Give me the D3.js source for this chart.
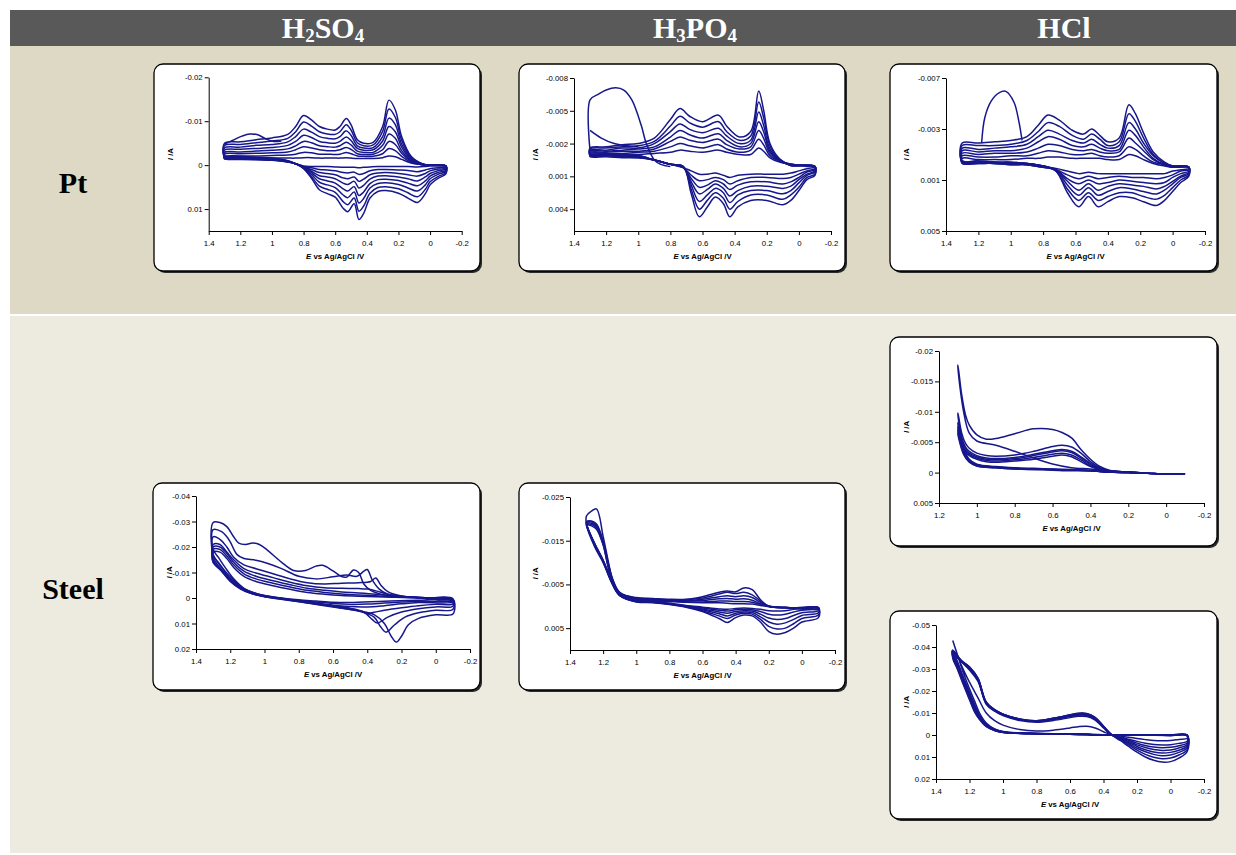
<!DOCTYPE html>
<html>
<head>
<meta charset="utf-8">
<script src="https://cdn.jsdelivr.net/npm/d3@7"></script>
<style>
  body { margin: 0; background: #fff; }
  svg { display: block; }
</style>
</head>
<body>
<svg id="fig" width="1236" height="855"></svg>
<script>
// Currents are in mA (negative plotted upward), potentials in V vs Ag/AgCl.

// ---- Pt in H2SO4 ----
var ptH2so4UpE = [1.3, 1.2, 1.1, 1.0, 0.9, 0.85, 0.8, 0.75, 0.7, 0.65, 0.6, 0.57, 0.53, 0.5, 0.46, 0.42, 0.36, 0.3, 0.26, 0.22, 0.18, 0.12, 0.05, 0, -0.1];
var ptH2so4Up = [
    [-5, -5.3, -5.8, -6.2, -7, -8.8, -11.3, -10.3, -8.8, -8.2, -8.0, -8.8, -10.6, -9.2, -5.8, -5.0, -5.2, -8.8, -14.8, -12.6, -6.5, -2.0, -0.3, 0, 0.2],
    [-4.5, -4.7, -5.1, -5.5, -6.1, -7.6, -9.8, -8.9, -7.6, -7.1, -7.0, -7.6, -9.2, -8.0, -5.1, -4.4, -4.6, -7.7, -12.8, -10.9, -5.7, -1.8, -0.3, 0, 0.2],
    [-3.9, -4.1, -4.5, -4.7, -5.3, -6.5, -8.2, -7.5, -6.5, -6.1, -6.0, -6.5, -7.8, -6.8, -4.4, -3.9, -4.0, -6.5, -10.7, -9.2, -4.8, -1.5, -0.2, 0, 0.2],
    [-3.4, -3.6, -3.8, -4.0, -4.5, -5.4, -6.8, -6.3, -5.4, -5.1, -5.0, -5.4, -6.4, -5.6, -3.8, -3.4, -3.5, -5.5, -8.8, -7.6, -4.1, -1.3, -0.2, 0, 0.2],
    [-2.9, -3.0, -3.2, -3.4, -3.7, -4.4, -5.4, -5.1, -4.4, -4.2, -4.1, -4.4, -5.2, -4.6, -3.2, -2.9, -2.9, -4.5, -7.1, -6.1, -3.3, -1.1, -0.2, 0, 0.2],
    [-2.5, -2.6, -2.7, -2.8, -3.0, -3.5, -4.2, -3.9, -3.5, -3.3, -3.3, -3.5, -4.0, -3.6, -2.6, -2.4, -2.5, -3.5, -5.4, -4.7, -2.7, -0.9, -0.1, 0, 0.2],
    [-2.0, -2.1, -2.1, -2.2, -2.3, -2.5, -2.9, -2.8, -2.5, -2.5, -2.4, -2.5, -2.9, -2.6, -2.1, -2.0, -2.0, -2.6, -3.8, -3.3, -2.0, -0.7, -0.1, 0, 0.2],
    [-1.6, -1.6, -1.6, -1.6, -1.6, -1.6, -1.7, -1.7, -1.6, -1.6, -1.6, -1.6, -1.7, -1.6, -1.5, -1.5, -1.5, -1.7, -2.1, -1.9, -1.3, -0.5, -0.1, 0, 0.2]
];
var ptH2so4DownE = [-0.1, -0.05, 0, 0.03, 0.08, 0.14, 0.2, 0.28, 0.33, 0.38, 0.42, 0.45, 0.48, 0.52, 0.55, 0.6, 0.65, 0.7, 0.75, 0.8, 0.85, 0.9, 1.0, 1.1, 1.2, 1.3];
var ptH2so4Down = [
    [2.0, 3.0, 4.5, 6.5, 8.5, 7.5, 6.4, 5.8, 6.0, 7.5, 11.0, 12.4, 8.8, 10.6, 9.8, 7.3, 6.5, 5.6, 3.0, 0.8, -0.3, -1.0, -1.6, -1.8, -2.0, -2.2],
    [1.7, 2.6, 3.8, 5.5, 7.2, 6.3, 5.4, 4.9, 5.1, 6.4, 9.3, 10.5, 7.5, 9.0, 8.3, 6.2, 5.5, 4.8, 2.6, 0.7, -0.3, -1.0, -1.5, -1.7, -1.9, -2.1],
    [1.4, 2.1, 3.1, 4.5, 5.9, 5.2, 4.4, 4.0, 4.2, 5.2, 7.6, 8.6, 6.1, 7.4, 6.8, 5.1, 4.5, 3.9, 2.1, 0.6, -0.3, -0.9, -1.4, -1.6, -1.8, -1.9],
    [1.2, 1.7, 2.5, 3.6, 4.7, 4.1, 3.5, 3.2, 3.3, 4.2, 6.1, 6.9, 4.9, 5.9, 5.4, 4.1, 3.6, 3.1, 1.7, 0.5, -0.3, -0.9, -1.4, -1.5, -1.7, -1.8],
    [0.9, 1.3, 1.9, 2.7, 3.6, 3.1, 2.7, 2.4, 2.5, 3.2, 4.6, 5.2, 3.7, 4.4, 4.1, 3.1, 2.7, 2.4, 1.4, 0.4, -0.3, -0.8, -1.3, -1.4, -1.6, -1.7],
    [0.7, 0.9, 1.3, 1.9, 2.5, 2.2, 1.9, 1.7, 1.8, 2.2, 3.2, 3.7, 2.7, 3.1, 2.9, 2.2, 1.9, 1.7, 1.0, 0.4, -0.3, -0.8, -1.2, -1.4, -1.5, -1.6],
    [0.4, 0.6, 0.8, 1.1, 1.5, 1.2, 1.1, 1.0, 1.0, 1.3, 1.9, 2.1, 1.6, 1.8, 1.7, 1.3, 1.1, 1.0, 0.6, 0.3, -0.3, -0.7, -1.2, -1.3, -1.4, -1.5],
    [0.2, 0.2, 0.2, 0.3, 0.4, 0.3, 0.3, 0.3, 0.3, 0.4, 0.5, 0.6, 0.5, 0.5, 0.5, 0.4, 0.3, 0.3, 0.3, 0.2, -0.3, -0.7, -1.1, -1.2, -1.3, -1.4]
];
var ptH2so4First = [[1.3, -4.8], [1.25, -5.6], [1.19, -6.6], [1.14, -7.1], [1.09, -6.9], [1.04, -6.0], [0.99, -5.4], [0.94, -5.5]];

// ---- Pt in H3PO4 ----
var ptH3po4UpE = [1.3, 1.2, 1.1, 1.0, 0.9, 0.8, 0.74, 0.68, 0.6, 0.5, 0.45, 0.37, 0.3, 0.25, 0.22, 0.18, 0.12, 0.05, -0.1];
var ptH3po4Up = [
    [-1.6, -1.7, -1.9, -2.0, -2.5, -4.2, -5.2, -4.5, -4.0, -4.6, -3.6, -2.6, -3.1, -6.8, -5.1, -2.0, -0.6, 0, 0.1],
    [-1.5, -1.6, -1.7, -1.8, -2.2, -3.6, -4.5, -3.9, -3.5, -4.0, -3.1, -2.3, -2.7, -5.8, -4.4, -1.8, -0.5, 0, 0.1],
    [-1.4, -1.4, -1.6, -1.6, -2.0, -3.1, -3.8, -3.3, -3.0, -3.4, -2.7, -2.0, -2.3, -4.9, -3.7, -1.5, -0.5, 0, 0.1],
    [-1.3, -1.3, -1.4, -1.5, -1.7, -2.6, -3.2, -2.8, -2.5, -2.9, -2.3, -1.7, -2.0, -4.0, -3.1, -1.3, -0.5, -0.1, 0.1],
    [-1.2, -1.2, -1.3, -1.3, -1.5, -2.2, -2.6, -2.3, -2.1, -2.4, -1.9, -1.5, -1.7, -3.2, -2.5, -1.1, -0.4, -0.1, 0.1],
    [-1.1, -1.1, -1.1, -1.2, -1.3, -1.7, -2.0, -1.8, -1.6, -1.9, -1.5, -1.2, -1.4, -2.4, -1.9, -0.9, -0.4, -0.1, 0.1],
    [-1.0, -1.0, -1.0, -1.0, -1.1, -1.2, -1.4, -1.3, -1.2, -1.4, -1.2, -1.0, -1.0, -1.6, -1.3, -0.7, -0.3, -0.1, 0.2]
];
var ptH3po4DownE = [-0.1, -0.05, 0, 0.05, 0.1, 0.2, 0.3, 0.38, 0.43, 0.47, 0.52, 0.57, 0.62, 0.67, 0.72, 0.8, 0.9, 1.0, 1.1, 1.2, 1.3];
var ptH3po4Down = [
    [0.9, 1.3, 2.3, 3.2, 3.6, 3.2, 3.2, 3.8, 4.7, 3.5, 2.9, 3.8, 4.7, 2.6, 0.1, -0.1, -0.5, -0.9, -1.0, -1.1, -1.1],
    [0.8, 1.1, 2.0, 2.7, 3.1, 2.7, 2.7, 3.3, 4.0, 3.0, 2.5, 3.2, 4.0, 2.2, 0.1, -0.1, -0.5, -0.9, -0.9, -1.0, -1.0],
    [0.6, 0.9, 1.6, 2.3, 2.6, 2.3, 2.3, 2.7, 3.4, 2.5, 2.1, 2.7, 3.3, 1.8, 0.1, -0.1, -0.5, -0.8, -0.9, -1.0, -1.0],
    [0.5, 0.8, 1.3, 1.9, 2.1, 1.9, 1.9, 2.3, 2.8, 2.1, 1.7, 2.2, 2.6, 1.5, 0.1, -0.1, -0.5, -0.8, -0.9, -0.9, -0.9],
    [0.4, 0.6, 1.1, 1.5, 1.7, 1.5, 1.5, 1.8, 2.2, 1.7, 1.4, 1.8, 2.0, 1.2, 0.2, -0.1, -0.5, -0.8, -0.8, -0.9, -0.9],
    [0.3, 0.5, 0.8, 1.1, 1.2, 1.1, 1.1, 1.4, 1.7, 1.3, 1.1, 1.3, 1.4, 0.9, 0.2, -0.1, -0.5, -0.7, -0.8, -0.9, -0.9],
    [0.2, 0.3, 0.5, 0.7, 0.8, 0.8, 0.8, 0.9, 1.1, 0.9, 0.7, 0.8, 0.8, 0.5, 0.2, -0.1, -0.5, -0.7, -0.7, -0.8, -0.8]
];
var ptH3po4FirstA = [[1.3, -1.3], [1.3, -6.0], [1.25, -6.5], [1.2, -6.9], [1.14, -7.1], [1.09, -6.9], [1.04, -6.0], [0.98, -3.6], [0.95, -2.0], [0.9, -0.5], [0.86, -0.1], [0.8, 0.1]];
var ptH3po4FirstB = [[1.3, -3.2], [1.23, -2.5], [1.15, -2.0], [1.07, -1.8], [1.0, -1.7]];

// ---- Pt in HCl ----
var ptHclUpE = [1.3, 1.2, 1.1, 1.0, 0.9, 0.83, 0.77, 0.7, 0.62, 0.55, 0.5, 0.45, 0.4, 0.33, 0.27, 0.23, 0.18, 0.12, 0.05, 0, -0.1];
var ptHclUp = [
    [-1.9, -1.9, -2.0, -2.1, -2.4, -3.3, -4.1, -3.7, -2.9, -2.6, -3.0, -2.5, -2.0, -2.3, -4.9, -4.2, -2.7, -1.2, -0.4, -0.1, 0],
    [-1.7, -1.7, -1.7, -1.8, -2.1, -2.8, -3.5, -3.2, -2.5, -2.2, -2.6, -2.2, -1.7, -2.0, -4.2, -3.6, -2.3, -1.0, -0.3, -0.1, 0],
    [-1.5, -1.4, -1.5, -1.6, -1.8, -2.4, -2.9, -2.6, -2.1, -1.9, -2.2, -1.8, -1.5, -1.7, -3.5, -3.0, -1.9, -0.9, -0.3, -0.1, 0],
    [-1.3, -1.2, -1.3, -1.3, -1.5, -2.0, -2.4, -2.2, -1.7, -1.6, -1.8, -1.5, -1.3, -1.4, -2.9, -2.5, -1.6, -0.7, -0.2, -0.1, 0],
    [-1.1, -1.0, -1.1, -1.1, -1.2, -1.5, -1.8, -1.7, -1.4, -1.3, -1.4, -1.2, -1.1, -1.2, -2.3, -1.9, -1.3, -0.6, -0.2, 0, 0],
    [-0.9, -0.8, -0.8, -0.9, -0.9, -1.1, -1.3, -1.2, -1.0, -1.0, -1.1, -0.9, -0.8, -0.9, -1.6, -1.4, -0.9, -0.4, -0.2, 0, 0],
    [-0.7, -0.6, -0.6, -0.6, -0.7, -0.7, -0.8, -0.8, -0.7, -0.7, -0.7, -0.7, -0.6, -0.6, -1.0, -0.9, -0.6, -0.3, -0.1, 0, 0]
];
var ptHclDownE = [-0.1, -0.05, 0, 0.05, 0.1, 0.18, 0.25, 0.33, 0.4, 0.46, 0.52, 0.58, 0.65, 0.72, 0.8, 0.9, 1.0, 1.1, 1.2, 1.3];
var ptHclDown = [
    [0.7, 1.2, 1.9, 2.6, 3.0, 2.7, 2.4, 2.3, 2.7, 3.1, 2.3, 3.1, 2.0, 0.3, -0.1, -0.3, -0.4, -0.4, -0.5, -0.5],
    [0.6, 1.0, 1.6, 2.2, 2.5, 2.3, 2.0, 2.0, 2.3, 2.6, 2.0, 2.6, 1.7, 0.3, -0.1, -0.3, -0.4, -0.4, -0.5, -0.5],
    [0.5, 0.8, 1.3, 1.8, 2.1, 1.9, 1.7, 1.6, 1.9, 2.2, 1.6, 2.2, 1.4, 0.2, -0.1, -0.3, -0.3, -0.4, -0.4, -0.4],
    [0.4, 0.7, 1.1, 1.5, 1.7, 1.5, 1.4, 1.3, 1.5, 1.8, 1.3, 1.8, 1.1, 0.2, -0.1, -0.3, -0.3, -0.4, -0.4, -0.4],
    [0.3, 0.5, 0.8, 1.2, 1.3, 1.2, 1.1, 1.0, 1.2, 1.3, 1.0, 1.3, 0.9, 0.2, 0, -0.2, -0.3, -0.3, -0.4, -0.4],
    [0.2, 0.3, 0.6, 0.8, 0.9, 0.8, 0.8, 0.7, 0.8, 0.9, 0.7, 0.9, 0.6, 0.2, 0, -0.2, -0.2, -0.3, -0.3, -0.3],
    [0.1, 0.2, 0.3, 0.5, 0.5, 0.5, 0.5, 0.5, 0.5, 0.5, 0.4, 0.5, 0.3, 0.1, 0, -0.2, -0.2, -0.3, -0.3, -0.3]
];
var ptHclFirst = [[1.18, -1.9], [1.16, -3.9], [1.12, -5.2], [1.07, -5.85], [1.03, -5.95], [0.98, -5.1], [0.95, -3.6], [0.93, -2.1]];

// ---- Steel in H2SO4 (peaks move from cycle to cycle, so each loop has its own points) ----
var stH2so4Up = [
    [[1.3, -29.6], [1.26, -29.6], [1.22, -28], [1.18, -24], [1.15, -21.5], [1.11, -21], [1.07, -21.6], [1.03, -21], [0.98, -18.6], [0.9, -14], [0.83, -10.8], [0.76, -10.8], [0.7, -12.5], [0.66, -12.8], [0.6, -10.6], [0.55, -8.4], [0.52, -8.2], [0.48, -11], [0.45, -10], [0.42, -5.5], [0.38, -3], [0.3, -1.2], [0.2, -0.4], [0.05, 0], [-0.1, 0.3]],
    [[1.3, -26.8], [1.25, -26], [1.22, -24], [1.2, -22], [1.16, -17], [1.12, -15.5], [1.05, -14.8], [0.98, -13.5], [0.9, -11.5], [0.8, -8.5], [0.7, -7.5], [0.6, -8.3], [0.52, -9], [0.46, -8.5], [0.42, -10.5], [0.4, -11.2], [0.37, -7], [0.33, -3.5], [0.28, -1.5], [0.2, -0.6], [0.05, 0], [-0.1, 0.5]],
    [[1.3, -24], [1.26, -23], [1.22, -20], [1.18, -16], [1.12, -13], [1.05, -11.5], [0.95, -9.5], [0.85, -7.5], [0.75, -6], [0.65, -5.5], [0.55, -5.8], [0.45, -6], [0.38, -6.5], [0.35, -7.8], [0.32, -5], [0.28, -2.5], [0.2, -0.8], [0.05, 0], [-0.1, 0.6]],
    [[1.3, -21], [1.26, -21], [1.22, -18], [1.18, -15], [1.12, -11.5], [1.05, -9.8], [0.95, -8], [0.85, -6.2], [0.75, -4.8], [0.65, -4], [0.55, -3.8], [0.45, -3.7], [0.4, -3.5], [0.35, -2.8], [0.28, -1.5], [0.2, -0.7], [0.05, 0], [-0.1, 0.8]],
    [[1.3, -20], [1.26, -20], [1.22, -17.5], [1.18, -14], [1.12, -10.5], [1.05, -8.5], [0.95, -6.8], [0.85, -5.2], [0.75, -3.8], [0.65, -3], [0.55, -2.4], [0.45, -2], [0.35, -1.5], [0.25, -0.8], [0.1, -0.2], [-0.1, 0.9]],
    [[1.3, -19], [1.26, -19], [1.22, -16.5], [1.18, -13], [1.12, -9.5], [1.05, -7.5], [0.95, -5.8], [0.85, -4.3], [0.75, -3], [0.65, -2.2], [0.55, -1.6], [0.45, -1.2], [0.35, -0.9], [0.25, -0.5], [0.1, -0.1], [-0.1, 1.0]],
    [[1.3, -18], [1.26, -18], [1.22, -15.5], [1.18, -12], [1.12, -8.5], [1.05, -6.5], [0.95, -4.8], [0.85, -3.4], [0.75, -2.2], [0.65, -1.5], [0.55, -1], [0.45, -0.7], [0.3, -0.4], [0.1, 0], [-0.1, 1.2]]
];
var stH2so4Down = [
    [[-0.1, 6.3], [0, 6.6], [0.1, 8], [0.16, 10.5], [0.2, 15], [0.23, 17.3], [0.26, 15], [0.3, 10], [0.36, 6.5], [0.45, 5], [0.55, 4], [0.65, 3], [0.75, 2], [0.85, 1], [0.95, 0], [1.05, -1.5], [1.12, -3.5], [1.18, -7], [1.23, -10.5], [1.27, -14], [1.3, -17]],
    [[-0.1, 4.5], [0, 4.8], [0.1, 5.8], [0.18, 7.5], [0.24, 10.5], [0.29, 13.4], [0.32, 11.5], [0.36, 7.5], [0.45, 5], [0.55, 3.6], [0.65, 2.6], [0.75, 1.6], [0.85, 0.6], [0.95, -0.4], [1.05, -1.8], [1.12, -3.8], [1.18, -7.5], [1.23, -12], [1.27, -16], [1.3, -19]],
    [[-0.1, 3.2], [0, 3.5], [0.1, 4.2], [0.2, 5.5], [0.28, 7.5], [0.34, 9.8], [0.37, 8.5], [0.42, 5.5], [0.5, 4], [0.6, 3], [0.7, 2.2], [0.8, 1.2], [0.9, 0.2], [1.0, -0.8], [1.08, -2], [1.14, -4], [1.2, -7.5], [1.25, -12], [1.3, -17]],
    [[-0.1, 2.3], [0, 2.5], [0.1, 3], [0.2, 3.8], [0.3, 4.8], [0.36, 5.6], [0.4, 6], [0.44, 5.3], [0.5, 4.5], [0.6, 3.3], [0.7, 2.4], [0.8, 1.4], [0.9, 0.4], [1.0, -0.5], [1.08, -1.8], [1.14, -3.8], [1.2, -7], [1.25, -11], [1.3, -16]],
    [[-0.1, 1.6], [0.1, 1.8], [0.2, 2.3], [0.3, 3], [0.4, 3.5], [0.5, 3.3], [0.6, 2.8], [0.7, 2], [0.8, 1.2], [0.9, 0.3], [1.0, -0.6], [1.08, -1.8], [1.14, -3.5], [1.2, -6.5], [1.25, -10.5], [1.3, -15]],
    [[-0.1, 1.2], [0.1, 1.3], [0.2, 1.6], [0.3, 2], [0.4, 2.4], [0.5, 2.5], [0.6, 2.2], [0.7, 1.6], [0.8, 1], [0.9, 0.2], [1.0, -0.7], [1.08, -2], [1.14, -3.8], [1.2, -6.8], [1.25, -10.5], [1.3, -14]],
    [[-0.1, 0.8], [0.1, 0.9], [0.3, 1.3], [0.5, 1.8], [0.6, 1.7], [0.7, 1.2], [0.8, 0.7], [0.9, 0], [1.0, -1], [1.08, -2.5], [1.14, -4.5], [1.2, -7.5], [1.25, -11], [1.3, -14]]
];

// ---- Steel in H3PO4 ----
var stH3po4UpE = [1.3, 1.27, 1.24, 1.2, 1.17, 1.14, 1.1, 1.0, 0.9, 0.8, 0.7, 0.6, 0.5, 0.45, 0.4, 0.35, 0.3, 0.25, 0.2, 0.1, 0, -0.1];
var stH3po4Up = [
    [-20.7, -21.8, -22.3, -16, -10.5, -5.5, -3, -2.0, -1.8, -1.6, -1.6, -2.2, -3.2, -3.5, -3.3, -4.2, -3.8, -1.5, 0, 0.3, 0.3, 0.3],
    [-19.4, -19.5, -18.8, -15, -10, -6, -3.2, -1.9, -1.7, -1.5, -1.5, -1.9, -2.8, -3.2, -2.9, -3.2, -2.6, -1.2, 0, 0.3, 0.3, 0.3],
    [-19.2, -19.3, -18.5, -14.8, -9.8, -5.8, -3.1, -1.8, -1.6, -1.4, -1.3, -1.6, -2.2, -2.4, -2.2, -2.4, -2.0, -0.9, 0, 0.3, 0.4, 0.4],
    [-19.0, -19.0, -18.2, -14.5, -9.5, -5.6, -3.0, -1.7, -1.5, -1.3, -1.2, -1.3, -1.7, -1.8, -1.6, -1.7, -1.4, -0.6, 0, 0.3, 0.4, 0.5],
    [-18.8, -18.7, -17.9, -14.2, -9.2, -5.4, -2.9, -1.6, -1.4, -1.2, -1.0, -1.0, -1.2, -1.2, -1.1, -1.1, -0.9, -0.4, 0, 0.3, 0.5, 0.6],
    [-18.6, -18.4, -17.6, -14.0, -9.0, -5.2, -2.8, -1.5, -1.3, -1.1, -0.9, -0.8, -0.8, -0.7, -0.6, -0.6, -0.5, -0.2, 0.1, 0.4, 0.6, 0.7]
];
var stH3po4DownE = [-0.1, 0, 0.05, 0.1, 0.15, 0.2, 0.25, 0.3, 0.35, 0.4, 0.45, 0.5, 0.6, 0.7, 0.8, 0.9, 1.0, 1.1, 1.15, 1.2, 1.25, 1.3];
var stH3po4Down = [
    [2.6, 3.6, 5.0, 6.0, 6.4, 5.8, 3.6, 2.2, 2.0, 2.6, 3.7, 2.8, 1.2, 0.2, -0.4, -0.8, -1.0, -2.4, -5.5, -10, -13.5, -18.5],
    [2.0, 2.8, 4.0, 5.0, 5.2, 4.6, 3.0, 1.8, 1.6, 2.0, 2.8, 2.2, 1.0, 0.1, -0.5, -0.9, -1.1, -2.5, -5.6, -10.2, -13.8, -18.8],
    [1.5, 2.1, 3.0, 3.8, 4.1, 3.6, 2.4, 1.4, 1.3, 1.6, 2.2, 1.7, 0.8, 0, -0.5, -0.9, -1.1, -2.5, -5.7, -10.3, -14, -18.9],
    [1.0, 1.5, 2.1, 2.8, 3.0, 2.7, 1.8, 1.1, 1.0, 1.2, 1.6, 1.3, 0.6, 0, -0.6, -1.0, -1.2, -2.6, -5.8, -10.4, -14.1, -18.8],
    [0.6, 0.9, 1.3, 1.8, 2.0, 1.8, 1.2, 0.8, 0.7, 0.8, 1.1, 0.9, 0.4, -0.1, -0.6, -1.0, -1.2, -2.6, -5.9, -10.5, -14.2, -18.6],
    [0.3, 0.5, 0.7, 1.0, 1.1, 1.0, 0.7, 0.5, 0.4, 0.5, 0.7, 0.6, 0.2, -0.2, -0.7, -1.1, -1.3, -2.7, -6.0, -10.6, -14.3, -18.4]
];

// ---- Steel in HCl, upper panel (scan to 1.1 V) ----
var stHclAUpE = [1.1, 1.08, 1.06, 1.04, 1.0, 0.95, 0.9, 0.8, 0.7, 0.6, 0.55, 0.5, 0.45, 0.4, 0.35, 0.3, 0.2, 0.1, 0, -0.1];
var stHclAUp = [
    [-17.7, -12.8, -9.5, -7.8, -6.2, -5.5, -5.6, -6.4, -7.2, -7.1, -6.6, -5.7, -3.8, -2.2, -1.0, -0.4, -0.1, 0.1, 0.2, 0.2],
    [-9.8, -6.5, -4.8, -4.0, -3.2, -2.8, -2.7, -2.9, -3.5, -4.3, -4.5, -4.2, -3.2, -1.8, -0.8, -0.3, -0.1, 0.1, 0.2, 0.2],
    [-8.2, -5.8, -4.2, -3.5, -2.8, -2.4, -2.3, -2.5, -3.0, -3.6, -3.8, -3.5, -2.6, -1.5, -0.7, -0.3, -0.1, 0.1, 0.2, 0.2],
    [-7.5, -5.2, -3.9, -3.2, -2.6, -2.2, -2.1, -2.3, -2.8, -3.4, -3.6, -3.3, -2.4, -1.3, -0.6, -0.3, -0.1, 0.1, 0.2, 0.2],
    [-7.0, -4.8, -3.6, -3.0, -2.4, -2.0, -1.9, -2.1, -2.5, -3.0, -3.2, -2.9, -2.1, -1.1, -0.5, -0.2, -0.1, 0.1, 0.2, 0.2],
    [-6.5, -4.5, -3.4, -2.8, -2.2, -1.8, -1.7, -1.9, -2.2, -2.7, -2.9, -2.6, -1.8, -1.0, -0.5, -0.2, -0.1, 0.1, 0.2, 0.2]
];
var stHclADownE = [-0.1, 0, 0.1, 0.2, 0.3, 0.4, 0.5, 0.6, 0.7, 0.8, 0.9, 1.0, 1.04, 1.07, 1.1];
var stHclADown = [
    [0.2, 0.2, 0.1, 0, -0.3, -0.6, -0.8, -1.4, -2.4, -3.5, -4.5, -5.2, -6.5, -10, -17.2],
    [0.2, 0.2, 0.1, 0, -0.1, -0.4, -0.5, -0.6, -0.7, -0.8, -1.0, -1.4, -2.2, -4.0, -9.5],
    [0.2, 0.2, 0.1, 0, -0.1, -0.3, -0.4, -0.5, -0.6, -0.7, -0.9, -1.3, -2.0, -3.6, -8.0],
    [0.2, 0.2, 0.1, 0, -0.1, -0.3, -0.4, -0.5, -0.6, -0.7, -0.9, -1.2, -1.9, -3.4, -7.3],
    [0.2, 0.2, 0.1, 0, -0.1, -0.3, -0.4, -0.5, -0.5, -0.6, -0.8, -1.1, -1.8, -3.2, -6.8],
    [0.2, 0.2, 0.1, 0, -0.1, -0.3, -0.3, -0.4, -0.5, -0.6, -0.8, -1.1, -1.7, -3.0, -6.3]
];

// ---- Steel in HCl, lower panel (scan to 1.3 V) ----
var stHclBUpE = [1.3, 1.27, 1.24, 1.2, 1.17, 1.14, 1.1, 1.05, 1.0, 0.9, 0.8, 0.7, 0.6, 0.5, 0.4, 0.35, 0.3, 0.2, 0.1, 0, -0.1];
var stHclBUp = [
    [-43, -36, -29, -21, -15.5, -10, -5.5, -2.8, -1.6, -1.0, -0.8, -0.6, -0.5, -0.3, -0.1, 0, 0, 0, 0, 0, 0],
    [-38.5, -33, -27, -19.5, -14, -9, -5, -2.6, -1.5, -0.9, -0.7, -0.5, -0.4, -0.3, -0.1, 0, 0, 0, 0, 0, 0.1],
    [-37.5, -32, -26, -18.5, -13, -8.5, -4.7, -2.4, -1.4, -0.9, -0.7, -0.5, -0.4, -0.2, -0.1, 0, 0, 0, 0, 0.1, 0.1],
    [-37, -31.5, -25.5, -18, -12.5, -8, -4.5, -2.3, -1.3, -0.8, -0.6, -0.5, -0.4, -0.2, -0.1, 0, 0, 0, 0, 0.1, 0.2],
    [-36.5, -31, -25, -17.5, -12, -7.8, -4.3, -2.2, -1.3, -0.8, -0.6, -0.4, -0.3, -0.2, -0.1, 0, 0, 0, 0.1, 0.1, 0.2],
    [-36, -30.5, -24.5, -17, -11.5, -7.5, -4.2, -2.1, -1.2, -0.8, -0.6, -0.4, -0.3, -0.2, -0.1, 0, 0, 0, 0.1, 0.2, 0.3],
    [-35.5, -30, -24, -16.5, -11, -7.2, -4, -2.0, -1.2, -0.7, -0.5, -0.4, -0.3, -0.2, -0.1, 0, 0, 0.1, 0.1, 0.2, 0.3],
    [-35, -29.5, -23.5, -16, -10.5, -7, -3.8, -2.0, -1.1, -0.7, -0.5, -0.4, -0.3, -0.2, -0.1, 0, 0, 0.1, 0.1, 0.2, 0.4]
];
var stHclBDownE = [-0.1, -0.05, 0, 0.05, 0.1, 0.15, 0.2, 0.25, 0.3, 0.35, 0.4, 0.45, 0.5, 0.55, 0.6, 0.7, 0.8, 0.9, 1.0, 1.05, 1.1, 1.15, 1.2, 1.25, 1.3];
var stHclBDown = [
    [1.5, 2.0, 2.5, 2.6, 2.5, 2.1, 1.6, 1.0, 0.5, 0, -1.5, -3.2, -4.0, -3.8, -3.2, -2.2, -1.8, -2.5, -4.5, -6.5, -10, -17, -24, -32, -43],
    [2.8, 3.8, 4.4, 4.5, 4.3, 3.7, 2.9, 1.9, 0.9, 0, -3.2, -6.8, -8.4, -8.5, -7.9, -6.6, -5.8, -6.6, -8.8, -10.8, -14, -24.5, -29.5, -33.5, -37.5],
    [3.6, 4.9, 5.6, 5.8, 5.5, 4.8, 3.7, 2.4, 1.2, 0, -3.5, -7.2, -8.9, -9.0, -8.4, -7.0, -6.1, -6.9, -9.1, -11.1, -14.3, -25, -30, -33.5, -37.8],
    [4.3, 5.9, 6.8, 7.0, 6.6, 5.7, 4.5, 2.9, 1.4, 0, -3.7, -7.5, -9.2, -9.3, -8.7, -7.2, -6.2, -7.0, -9.2, -11.2, -14.4, -25.2, -30.2, -33.6, -38],
    [5.0, 6.9, 7.9, 8.2, 7.7, 6.7, 5.2, 3.4, 1.7, 0, -3.8, -7.7, -9.4, -9.5, -8.9, -7.4, -6.3, -7.1, -9.3, -11.3, -14.6, -25.4, -30.4, -33.7, -38.2],
    [5.7, 7.9, 9.1, 9.4, 8.8, 7.6, 6.0, 3.9, 1.9, 0, -3.9, -7.8, -9.6, -9.7, -9.0, -7.5, -6.4, -7.2, -9.4, -11.4, -14.7, -25.6, -30.6, -33.8, -38.3],
    [6.6, 9.1, 10.5, 10.8, 10.1, 8.8, 6.9, 4.5, 2.2, 0, -4.0, -7.9, -9.7, -9.8, -9.1, -7.6, -6.5, -7.2, -9.5, -11.5, -14.8, -25.8, -30.8, -33.9, -38.4],
    [7.5, 10.5, 12.1, 12.3, 11.5, 10.0, 7.8, 5.2, 2.5, 0, -4.0, -8.0, -9.8, -9.9, -9.2, -7.6, -6.5, -7.3, -9.5, -11.5, -15, -26, -31, -34, -38.5]
];

// axis ticks
var xTicksWide = [1.4, 1.2, 1, 0.8, 0.6, 0.4, 0.2, 0, -0.2];
var xTicksShort = [1.2, 1, 0.8, 0.6, 0.4, 0.2, 0, -0.2];
var yTicksPtH2so4 = [-0.02, -0.01, 0, 0.01];
var yTicksPtH3po4 = [-0.008, -0.005, -0.002, 0.001, 0.004];
var yTicksPtHcl = [-0.007, -0.003, 0.001, 0.005];
var yTicksStH2so4 = [-0.04, -0.03, -0.02, -0.01, 0, 0.01, 0.02];
var yTicksStH3po4 = [-0.025, -0.015, -0.005, 0.005];
var yTicksStHclA = [-0.02, -0.015, -0.01, -0.005, 0, 0.005];
var yTicksStHclB = [-0.05, -0.04, -0.03, -0.02, -0.01, 0, 0.01, 0.02];

var lineColor = '#17178c';
var svg = d3.select('#fig');

// background bands
svg.append('rect').attr('x', 10).attr('y', 46).attr('width', 1226).attr('height', 268).attr('fill', '#ddd9c4');
svg.append('rect').attr('x', 10).attr('y', 316).attr('width', 1226).attr('height', 537).attr('fill', '#edeae0');
svg.append('rect').attr('x', 10).attr('y', 10).attr('width', 1226).attr('height', 36).attr('fill', '#595959');

// column headers, digits as subscripts
var headers = [
    { x: 323, parts: [['H', 0], ['2', 1], ['SO', 0], ['4', 1]] },
    { x: 695, parts: [['H', 0], ['3', 1], ['PO', 0], ['4', 1]] },
    { x: 1064, parts: [['HCl', 0]] }
];
headers.forEach(function (h) {
    var t = svg.append('text')
        .attr('x', h.x).attr('y', 38)
        .attr('text-anchor', 'middle')
        .attr('font-family', 'Liberation Serif, Times New Roman, serif')
        .attr('font-weight', 'bold')
        .attr('font-size', 30)
        .attr('fill', '#fff');
    var low = false;
    h.parts.forEach(function (p) {
        var shift = 0;
        if (p[1] && !low) shift = 4;
        if (!p[1] && low) shift = -4;
        low = !!p[1];
        t.append('tspan')
            .attr('font-size', p[1] ? 19 : 30)
            .attr('dy', shift)
            .text(p[0]);
    });
});

// row labels
[['Pt', 193], ['Steel', 599]].forEach(function (r) {
    svg.append('text')
        .attr('x', 73).attr('y', r[1])
        .attr('text-anchor', 'middle')
        .attr('font-family', 'Liberation Serif, Times New Roman, serif')
        .attr('font-weight', 'bold')
        .attr('font-size', 30)
        .text(r[0]);
});

function gridLoops(upE, up, downE, down) {
    return up.map(function (row, k) {
        return upE.map(function (e, i) { return [e, row[i]]; })
            .concat(downE.map(function (e, i) { return [e, down[k][i]]; }));
    });
}

var panels = [
    { box: [154, 64, 326, 207], plot: [208.7, 461.7, 77.3, 231], xDomain: [1.4, -0.2], yDomain: [-0.02, 0.015],
      xTicks: xTicksWide, yTicks: yTicksPtH2so4,
      loops: gridLoops(ptH2so4UpE, ptH2so4Up, ptH2so4DownE, ptH2so4Down), extra: [ptH2so4First] },
    { box: [519, 64, 326, 207], plot: [574, 831, 78, 231], xDomain: [1.4, -0.2], yDomain: [-0.008, 0.006],
      xTicks: xTicksWide, yTicks: yTicksPtH3po4,
      loops: gridLoops(ptH3po4UpE, ptH3po4Up, ptH3po4DownE, ptH3po4Down), extra: [ptH3po4FirstA, ptH3po4FirstB] },
    { box: [890, 64, 327, 207], plot: [946, 1205, 78, 231], xDomain: [1.4, -0.2], yDomain: [-0.007, 0.005],
      xTicks: xTicksWide, yTicks: yTicksPtHcl,
      loops: gridLoops(ptHclUpE, ptHclUp, ptHclDownE, ptHclDown), extra: [ptHclFirst] },
    { box: [153, 483, 327, 207], plot: [196, 470, 496, 649], xDomain: [1.4, -0.2], yDomain: [-0.04, 0.02],
      xTicks: xTicksWide, yTicks: yTicksStH2so4,
      loops: stH2so4Up.map(function (u, k) { return u.concat(stH2so4Down[k]); }), extra: [] },
    { box: [519, 483, 326, 207], plot: [570, 835, 497, 650], xDomain: [1.4, -0.2], yDomain: [-0.025, 0.01],
      xTicks: xTicksWide, yTicks: yTicksStH3po4,
      loops: gridLoops(stH3po4UpE, stH3po4Up, stH3po4DownE, stH3po4Down), extra: [] },
    { box: [890, 337, 327, 209], plot: [939, 1204, 351, 503], xDomain: [1.2, -0.2], yDomain: [-0.02, 0.005],
      xTicks: xTicksShort, yTicks: yTicksStHclA,
      loops: gridLoops(stHclAUpE, stHclAUp, stHclADownE, stHclADown), extra: [] },
    { box: [890, 611, 327, 208], plot: [936, 1204, 625, 779], xDomain: [1.4, -0.2], yDomain: [-0.05, 0.02],
      xTicks: xTicksWide, yTicks: yTicksStHclB,
      loops: gridLoops(stHclBUpE, stHclBUp, stHclBDownE, stHclBDown), extra: [] }
];

function drawPanel(p) {
    var g = svg.append('g');
    var b = p.box;

    // framed white card with a dark edge
    g.append('rect').attr('x', b[0] + 2).attr('y', b[1] + 2).attr('width', b[2]).attr('height', b[3])
        .attr('rx', 9).attr('fill', '#2b2b2b');
    g.append('rect').attr('x', b[0]).attr('y', b[1]).attr('width', b[2]).attr('height', b[3])
        .attr('rx', 9).attr('fill', '#fff').attr('stroke', '#000').attr('stroke-width', 1.3);

    var x = d3.scaleLinear().domain(p.xDomain).range([p.plot[0], p.plot[1]]);
    var y = d3.scaleLinear().domain(p.yDomain).range([p.plot[2], p.plot[3]]);

    var xAxis = g.append('g')
        .attr('transform', 'translate(0,' + p.plot[3] + ')')
        .call(d3.axisBottom(x).tickValues(p.xTicks).tickSize(4).tickSizeOuter(0).tickPadding(5).tickFormat(String));
    var yAxis = g.append('g')
        .attr('transform', 'translate(' + p.plot[0] + ',0)')
        .call(d3.axisLeft(y).tickValues(p.yTicks).tickSize(4).tickSizeOuter(0).tickPadding(2).tickFormat(String));
    [xAxis, yAxis].forEach(function (a) {
        a.attr('font-family', 'Liberation Sans, Arial, sans-serif').attr('font-size', 7.8);
        a.selectAll('path, line').attr('stroke', '#000');
        a.selectAll('text').attr('fill', '#000');
    });

    // axis titles
    var xt = g.append('text')
        .attr('x', (p.plot[0] + p.plot[1]) / 2).attr('y', p.plot[3] + 27.5)
        .attr('text-anchor', 'middle')
        .attr('font-family', 'Liberation Sans, Arial, sans-serif')
        .attr('font-size', 7.8).attr('font-weight', 'bold');
    xt.append('tspan').attr('font-style', 'italic').text('E');
    xt.append('tspan').text(' vs Ag/AgCl /V');

    var cy = (p.plot[2] + p.plot[3]) / 2;
    var yt = g.append('text')
        .attr('transform', 'translate(' + (b[0] + 19) + ',' + cy + ') rotate(-90)')
        .attr('text-anchor', 'middle')
        .attr('font-family', 'Liberation Sans, Arial, sans-serif')
        .attr('font-size', 7.8).attr('font-weight', 'bold');
    yt.append('tspan').attr('font-style', 'italic').text('I');
    yt.append('tspan').text(' /A');

    // voltammograms
    var loop = d3.line()
        .x(function (d) { return x(d[0]); })
        .y(function (d) { return y(d[1] / 1000); })
        .curve(d3.curveCatmullRomClosed.alpha(0.5));
    var open = d3.line()
        .x(function (d) { return x(d[0]); })
        .y(function (d) { return y(d[1] / 1000); })
        .curve(d3.curveCatmullRom.alpha(0.5));

    g.selectAll('path.cv')
        .data(p.loops)
        .enter()
        .append('path')
        .attr('class', 'cv')
        .attr('d', loop)
        .attr('fill', 'none')
        .attr('stroke', lineColor)
        .attr('stroke-width', 1.5);

    g.selectAll('path.first')
        .data(p.extra)
        .enter()
        .append('path')
        .attr('class', 'first')
        .attr('d', open)
        .attr('fill', 'none')
        .attr('stroke', lineColor)
        .attr('stroke-width', 1.5);
}

panels.forEach(drawPanel);
</script>
</body>
</html>
